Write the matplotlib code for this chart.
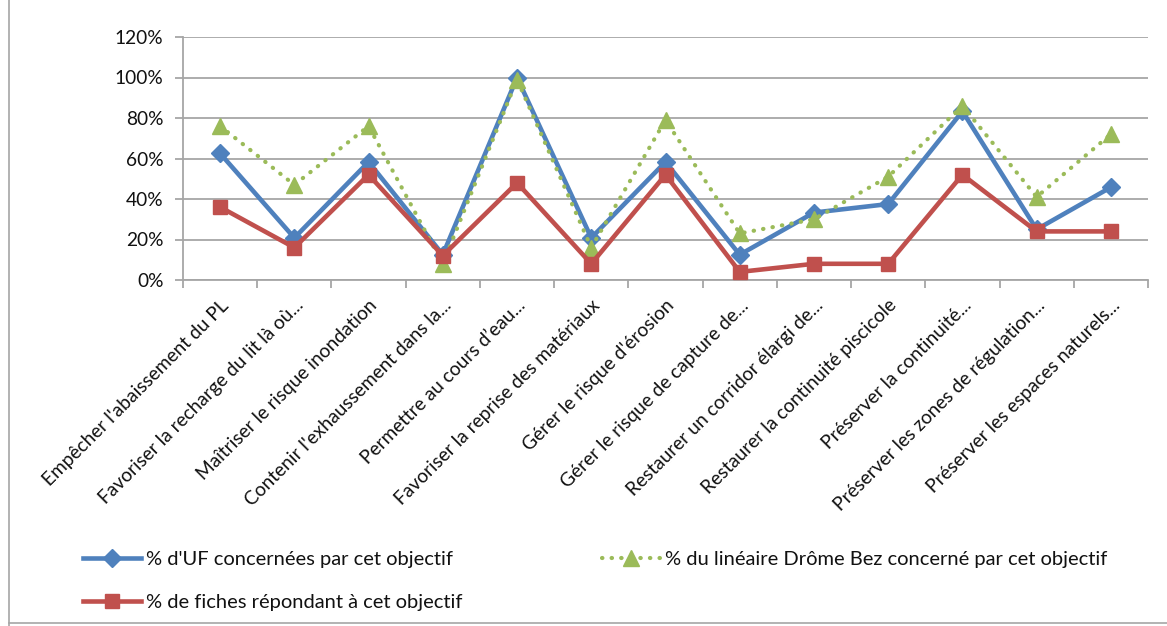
import matplotlib
matplotlib.use("Agg")
import matplotlib.pyplot as plt
from matplotlib.lines import Line2D
from matplotlib.ticker import FuncFormatter

categories = [
    "Empêcher l'abaissement du PL",
    "Favoriser la recharge du lit là où...",
    "Maîtriser le risque inondation",
    "Contenir l'exhaussement dans la...",
    "Permettre au cours d’eau...",
    "Favoriser la reprise des matériaux",
    "Gérer le risque d'érosion",
    "Gérer le risque de capture de...",
    "Restaurer un corridor élargi de...",
    "Restaurer la continuité piscicole",
    "Préserver la continuité...",
    "Préserver les zones de régulation...",
    "Préserver les espaces naturels...",
]
uf_pct = [62.5, 20.8, 58.3, 12.5, 100.0, 20.8, 58.3, 12.5, 33.3, 37.5, 83.3, 25.0, 45.8]
lineaire_pct = [76, 47, 76, 8, 99, 16, 79, 23, 30, 51, 86, 41, 72]
fiches_pct = [36, 16, 52, 12, 48, 8, 52, 4, 8, 8, 52, 24, 24]

labels = [
    "% d'UF concernées par cet objectif",
    "% du linéaire Drôme Bez concerné par cet objectif",
    "% de fiches répondant à cet objectif",
]
yticks = [0, 20, 40, 60, 80, 100, 120]

plt.rcParams['font.family'] = ['Lato', 'DejaVu Sans']

W, H = 1167, 626
fig = plt.figure(figsize=(W / 100, H / 100), dpi=100)
ax = fig.add_axes([183 / W, 1 - 280 / H, (1148 - 183) / W, (280 - 37) / H])

blue, green, red = "#4F81BD", "#9BBB59", "#C0504D"
x = list(range(len(categories)))

l1, = ax.plot(x, uf_pct, color=blue, lw=3.3, marker="D", ms=9,
              markerfacecolor=blue, markeredgecolor=blue, zorder=3)
l2, = ax.plot(x, lineaire_pct, color=green, lw=3.0, linestyle=(0, (0.1, 2.2)),
              dash_capstyle="round", marker="^", ms=11.5,
              markerfacecolor=green, markeredgecolor=green, zorder=4)
l3, = ax.plot(x, fiches_pct, color=red, lw=3.3, marker="s", ms=10.5,
              markerfacecolor=red, markeredgecolor=red, zorder=5)

ax.set_xlim(-0.5, len(categories) - 0.5)
ax.set_ylim(0, 120)
ax.set_yticks(yticks)
ax.yaxis.set_major_formatter(FuncFormatter(lambda v, p: f"{int(v)}%"))
ax.grid(axis="y", color="#A6A6A6", lw=1.3, zorder=0)
ax.set_axisbelow(True)

ax.set_xticks(x)
ax.set_xticklabels(categories, rotation=45, ha="right", rotation_mode="anchor",
                   fontsize=13.8, color="#111111")
ax.set_xticks([i - 0.5 for i in range(len(categories) + 1)], minor=True)
ax.tick_params(axis="x", which="major", length=0, pad=12)
ax.tick_params(axis="x", which="minor", length=6, color="#A6A6A6", width=1.3)
ax.tick_params(axis="y", length=6, color="#A6A6A6", width=1.3, labelsize=13.8,
               labelcolor="#111111", pad=8)

for s in ["top", "right"]:
    ax.spines[s].set_visible(False)
for s in ["left", "bottom"]:
    ax.spines[s].set_color("#A6A6A6")
    ax.spines[s].set_linewidth(1.3)

leg = fig.legend([l1, l3, l2], [labels[0], labels[2], labels[1]], ncol=2,
                 loc="upper left", bbox_to_anchor=(83 / W, 1 - 551 / H),
                 borderaxespad=0, borderpad=0,
                 frameon=False, fontsize=14.5, handlelength=2.9, handletextpad=0.25,
                 columnspacing=6.9, labelspacing=1.3)
for t in leg.get_texts():
    t.set_color("#111111")

fig.add_artist(Line2D([9 / W, 9 / W], [0, 1], color="#A6A6A6", lw=1.2,
                      transform=fig.transFigure))
fig.add_artist(Line2D([9 / W, 1], [1 - 623 / H, 1 - 623 / H], color="#A6A6A6", lw=1.2,
                      transform=fig.transFigure))

fig.savefig("out.png", dpi=100)
